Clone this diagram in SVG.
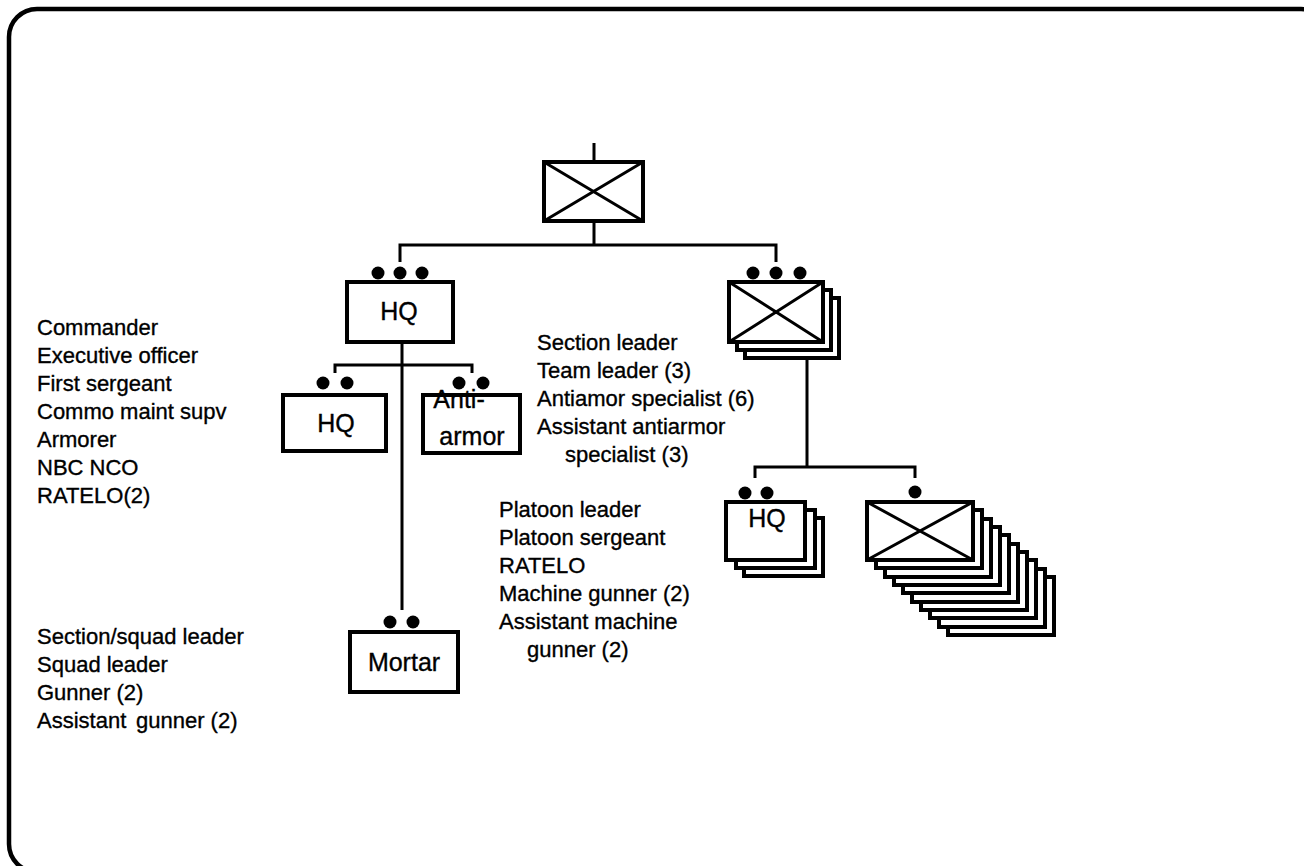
<svg xmlns="http://www.w3.org/2000/svg" width="1304" height="866" viewBox="0 0 1304 866">
<style>
.frame{fill:none;stroke:#000;stroke-width:4.5}
.box{fill:#fff;stroke:#000;stroke-width:4}
.x{stroke:#000;stroke-width:3;fill:none}
.ln{stroke:#000;stroke-width:3;fill:none}
.dot{fill:#000}
text{font-family:"Liberation Sans",Arial,sans-serif;font-size:22px;fill:#000;stroke:#000;stroke-width:0.35}
.lbl{text-anchor:middle;font-size:25px}
</style>
<rect width="1304" height="866" fill="#fff"/>
<rect class="frame" x="9" y="9" width="1320" height="863" rx="28"/>
<g id="connectors">
<path class="ln" d="M594,143V162M594,221V245M400,262V245H776V262"/>
<path class="ln" d="M402,342V610"/>
<path class="ln" d="M335,373V365H472V373"/>
<path class="ln" d="M807,358V467M755,478V467H915V478"/>
</g>
<g id="battalion">
<rect class="box" x="544" y="162" width="99" height="59"/>
<path class="x" d="M544,162L643,221M643,162L544,221"/>
</g>
<g id="company-hq">
<circle class="dot" cx="378" cy="273" r="6.5"/><circle class="dot" cx="400" cy="273" r="6.5"/><circle class="dot" cx="422" cy="273" r="6.5"/>
<rect class="box" x="347" y="282" width="106" height="60"/>
<text class="lbl" x="399" y="320">HQ</text>
</g>
<g id="section">
<circle class="dot" cx="753" cy="273" r="6.5"/><circle class="dot" cx="776" cy="273" r="6.5"/><circle class="dot" cx="800" cy="273" r="6.5"/>
<rect class="box" x="745" y="298" width="94" height="60"/>
<rect class="box" x="737" y="290" width="94" height="60"/>
<rect class="box" x="729" y="282" width="94" height="60"/>
<path class="x" d="M729,282L823,342M823,282L729,342"/>
</g>
<g id="hq-sub">
<circle class="dot" cx="323" cy="383" r="6.5"/><circle class="dot" cx="347" cy="383" r="6.5"/>
<rect class="box" x="283" y="395" width="103" height="56"/>
<text class="lbl" x="336" y="432">HQ</text>
</g>
<g id="antiarmor">
<rect class="box" x="423" y="395" width="97" height="58"/>
<text class="lbl" x="459" y="408">Anti-</text>
<text class="lbl" x="472" y="445">armor</text>
<circle class="dot" cx="459" cy="383" r="6.5"/><circle class="dot" cx="483" cy="383" r="6.5"/>
</g>
<g id="mortar">
<circle class="dot" cx="390" cy="622" r="6.5"/><circle class="dot" cx="413" cy="622" r="6.5"/>
<rect class="box" x="350" y="632" width="108" height="60"/>
<text class="lbl" x="404" y="671">Mortar</text>
</g>
<g id="platoon-hq">
<circle class="dot" cx="745" cy="493" r="6.5"/><circle class="dot" cx="767" cy="493" r="6.5"/>
<rect class="box" x="744" y="518" width="79" height="58"/>
<rect class="box" x="736" y="510" width="79" height="58"/>
<rect class="box" x="726" y="502" width="79" height="58"/>
<text class="lbl" x="767" y="527">HQ</text>
</g>
<g id="squads">
<circle class="dot" cx="915" cy="492" r="6.5"/>
<rect class="box" x="948" y="577" width="106" height="58"/>
<rect class="box" x="939" y="569" width="106" height="58"/>
<rect class="box" x="930" y="560" width="106" height="58"/>
<rect class="box" x="921" y="552" width="106" height="58"/>
<rect class="box" x="912" y="544" width="106" height="58"/>
<rect class="box" x="903" y="535" width="106" height="58"/>
<rect class="box" x="894" y="527" width="106" height="58"/>
<rect class="box" x="885" y="519" width="106" height="58"/>
<rect class="box" x="876" y="510" width="106" height="58"/>
<rect class="box" x="867" y="502" width="106" height="58"/>
<path class="x" d="M867,502L973,560M973,502L867,560"/>
</g>
<g id="text-hq">
<text x="37" y="335">Commander</text>
<text x="37" y="363">Executive officer</text>
<text x="37" y="391">First sergeant</text>
<text x="37" y="419">Commo maint supv</text>
<text x="37" y="447">Armorer</text>
<text x="37" y="475">NBC NCO</text>
<text x="37" y="503">RATELO(2)</text>
</g>
<g id="text-section">
<text x="537" y="350">Section leader</text>
<text x="537" y="378">Team leader (3)</text>
<text x="537" y="406">Antiamor specialist (6)</text>
<text x="537" y="434">Assistant antiarmor</text>
<text x="565" y="462">specialist (3)</text>
</g>
<g id="text-platoon">
<text x="499" y="517">Platoon leader</text>
<text x="499" y="545">Platoon sergeant</text>
<text x="499" y="573">RATELO</text>
<text x="499" y="601">Machine gunner (2)</text>
<text x="499" y="629">Assistant machine</text>
<text x="527" y="657">gunner (2)</text>
</g>
<g id="text-mortar">
<text x="37" y="644">Section/squad leader</text>
<text x="37" y="672">Squad leader</text>
<text x="37" y="700">Gunner (2)</text>
<text x="37" y="728">Assistant <tspan x="136">gunner (2)</tspan></text>
</g>
</svg>
